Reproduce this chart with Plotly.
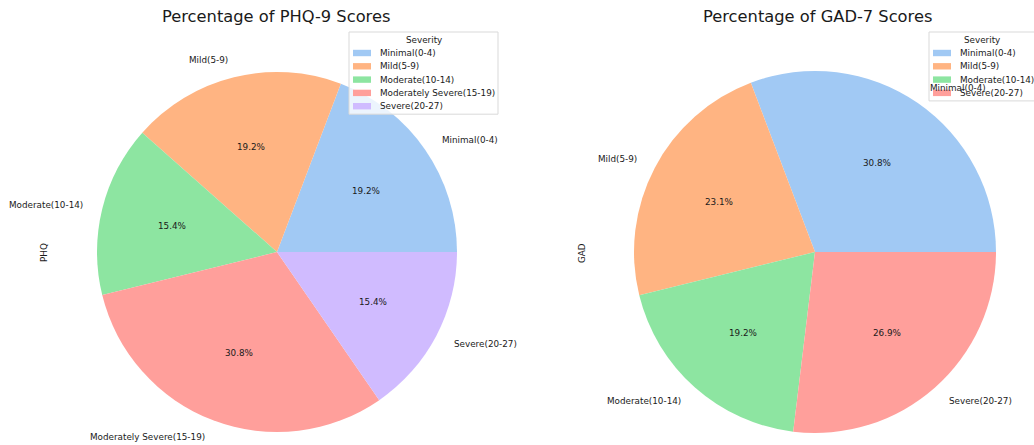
import math
import plotly.graph_objects as go

W, H = 1034, 445

# ---------------- data ----------------
phq_labels = ["Minimal(0-4)", "Mild(5-9)", "Moderate(10-14)", "Moderately Severe(15-19)", "Severe(20-27)"]
phq_counts = [5, 5, 4, 8, 4]
gad_labels = ["Minimal(0-4)", "Mild(5-9)", "Moderate(10-14)", "Severe(20-27)"]
gad_counts = [8, 6, 5, 7]
pastel = ["#a1c9f4", "#ffb482", "#8de5a1", "#ff9f9b", "#d0bbff"]

titles = ["Percentage of PHQ-9 Scores", "Percentage of GAD-7 Scores"]
ylabels = ["PHQ", "GAD"]
legend_title = "Severity"

FONT = "DejaVu Sans"
TXT = "#1a1a1a"

# ---------------- layout geometry (pixels) ----------------
panels = [
    dict(labels=phq_labels, values=phq_counts, cx=277, cy=252, r=180,
         title_x=276, ylab_x=44, leg_left=349, leg_right=498),
    dict(labels=gad_labels, values=gad_counts, cx=815, cy=252, r=181,
         title_x=817, ylab_x=582, leg_left=929, leg_right=1036),
]


def px(x):
    return x / W


def py(y):
    return 1 - y / H


fig = go.Figure()
annotations = []
shapes = []

for i, p in enumerate(panels):
    cols = pastel[:len(p["labels"])]
    total = sum(p["values"])
    # first slice starts at 3 o'clock and runs counter-clockwise
    rot = 90 - 360 * p["values"][0] / total
    fig.add_trace(go.Pie(
        labels=p["labels"], values=p["values"], sort=False,
        direction="counterclockwise", rotation=rot,
        marker=dict(colors=cols, line=dict(width=0)),
        textinfo="none", showlegend=False,
        domain=dict(x=[px(p["cx"] - p["r"]), px(p["cx"] + p["r"])],
                    y=[py(p["cy"] + p["r"]), py(p["cy"] - p["r"])]),
    ))

    # legend box geometry
    leg_top = 32
    row_h = 13.3
    first_row = 53
    leg_bottom = first_row + row_h * (len(p["labels"]) - 1) + 8

    cum = 0
    for lab, v in zip(p["labels"], p["values"]):
        mid = (cum + v / 2) / total * 2 * math.pi
        cum += v
        c, s = math.cos(mid), math.sin(mid)
        lx = p["cx"] + 1.1 * p["r"] * c
        ly = p["cy"] - 1.1 * p["r"] * s
        inside_leg = p["leg_left"] <= lx <= p["leg_right"] and leg_top <= ly <= leg_bottom
        annotations.append(dict(
            x=px(lx), y=py(ly), xref="paper", yref="paper",
            text=lab, showarrow=False,
            xanchor="left" if c > 0 else "right", yanchor="middle",
            font=dict(family=FONT, size=8.8, color="#d6d6d6" if inside_leg else TXT),
        ))
        tx = p["cx"] + 0.6 * p["r"] * c
        ty = p["cy"] - 0.6 * p["r"] * s
        annotations.append(dict(
            x=px(tx), y=py(ty), xref="paper", yref="paper",
            text=f"{100 * v / total:.1f}%", showarrow=False,
            xanchor="center", yanchor="middle",
            font=dict(family=FONT, size=8.8, color=TXT),
        ))

    # title
    annotations.append(dict(
        x=px(p["title_x"]), y=py(16.5), xref="paper", yref="paper",
        text=titles[i], showarrow=False, xanchor="center", yanchor="middle",
        font=dict(family=FONT, size=16.3, color=TXT),
    ))
    # y label
    annotations.append(dict(
        x=px(p["ylab_x"]), y=py(p["cy"] + 1), xref="paper", yref="paper",
        text=ylabels[i], showarrow=False, xanchor="center", yanchor="middle",
        textangle=-90, font=dict(family=FONT, size=8.8, color=TXT),
    ))

    # legend (matplotlib style)
    shapes.append(dict(
        type="rect", xref="paper", yref="paper", layer="above",
        x0=px(p["leg_left"]), x1=px(p["leg_right"]),
        y0=py(leg_bottom), y1=py(leg_top),
        fillcolor="rgba(255,255,255,0.8)", line=dict(color="#d9d9d9", width=1),
    ))
    annotations.append(dict(
        x=px((p["leg_left"] + p["leg_right"]) / 2 + (0 if i == 0 else -1)), y=py(40),
        xref="paper", yref="paper", text=legend_title, showarrow=False,
        xanchor="center", yanchor="middle",
        font=dict(family=FONT, size=8.8, color=TXT),
    ))
    for k, (lab, col) in enumerate(zip(p["labels"], cols)):
        yc = first_row + row_h * k
        shapes.append(dict(
            type="rect", xref="paper", yref="paper", layer="above",
            x0=px(p["leg_left"] + 4), x1=px(p["leg_left"] + 22),
            y0=py(yc + 3.2), y1=py(yc - 3.2),
            fillcolor=col, line=dict(width=0),
        ))
        annotations.append(dict(
            x=px(p["leg_left"] + 29), y=py(yc), xref="paper", yref="paper",
            text=lab, showarrow=False, xanchor="left", yanchor="middle",
            font=dict(family=FONT, size=8.8, color=TXT),
        ))

fig.update_layout(
    width=W, height=H,
    margin=dict(l=0, r=0, t=0, b=0),
    paper_bgcolor="white", plot_bgcolor="white",
    annotations=annotations, shapes=shapes,
    font=dict(family=FONT, color=TXT),
)

fig.write_html(
    "out.html",
    config={"displayModeBar": False},
    post_script="document.body.style.margin='0';document.body.style.overflow='hidden';",
)
